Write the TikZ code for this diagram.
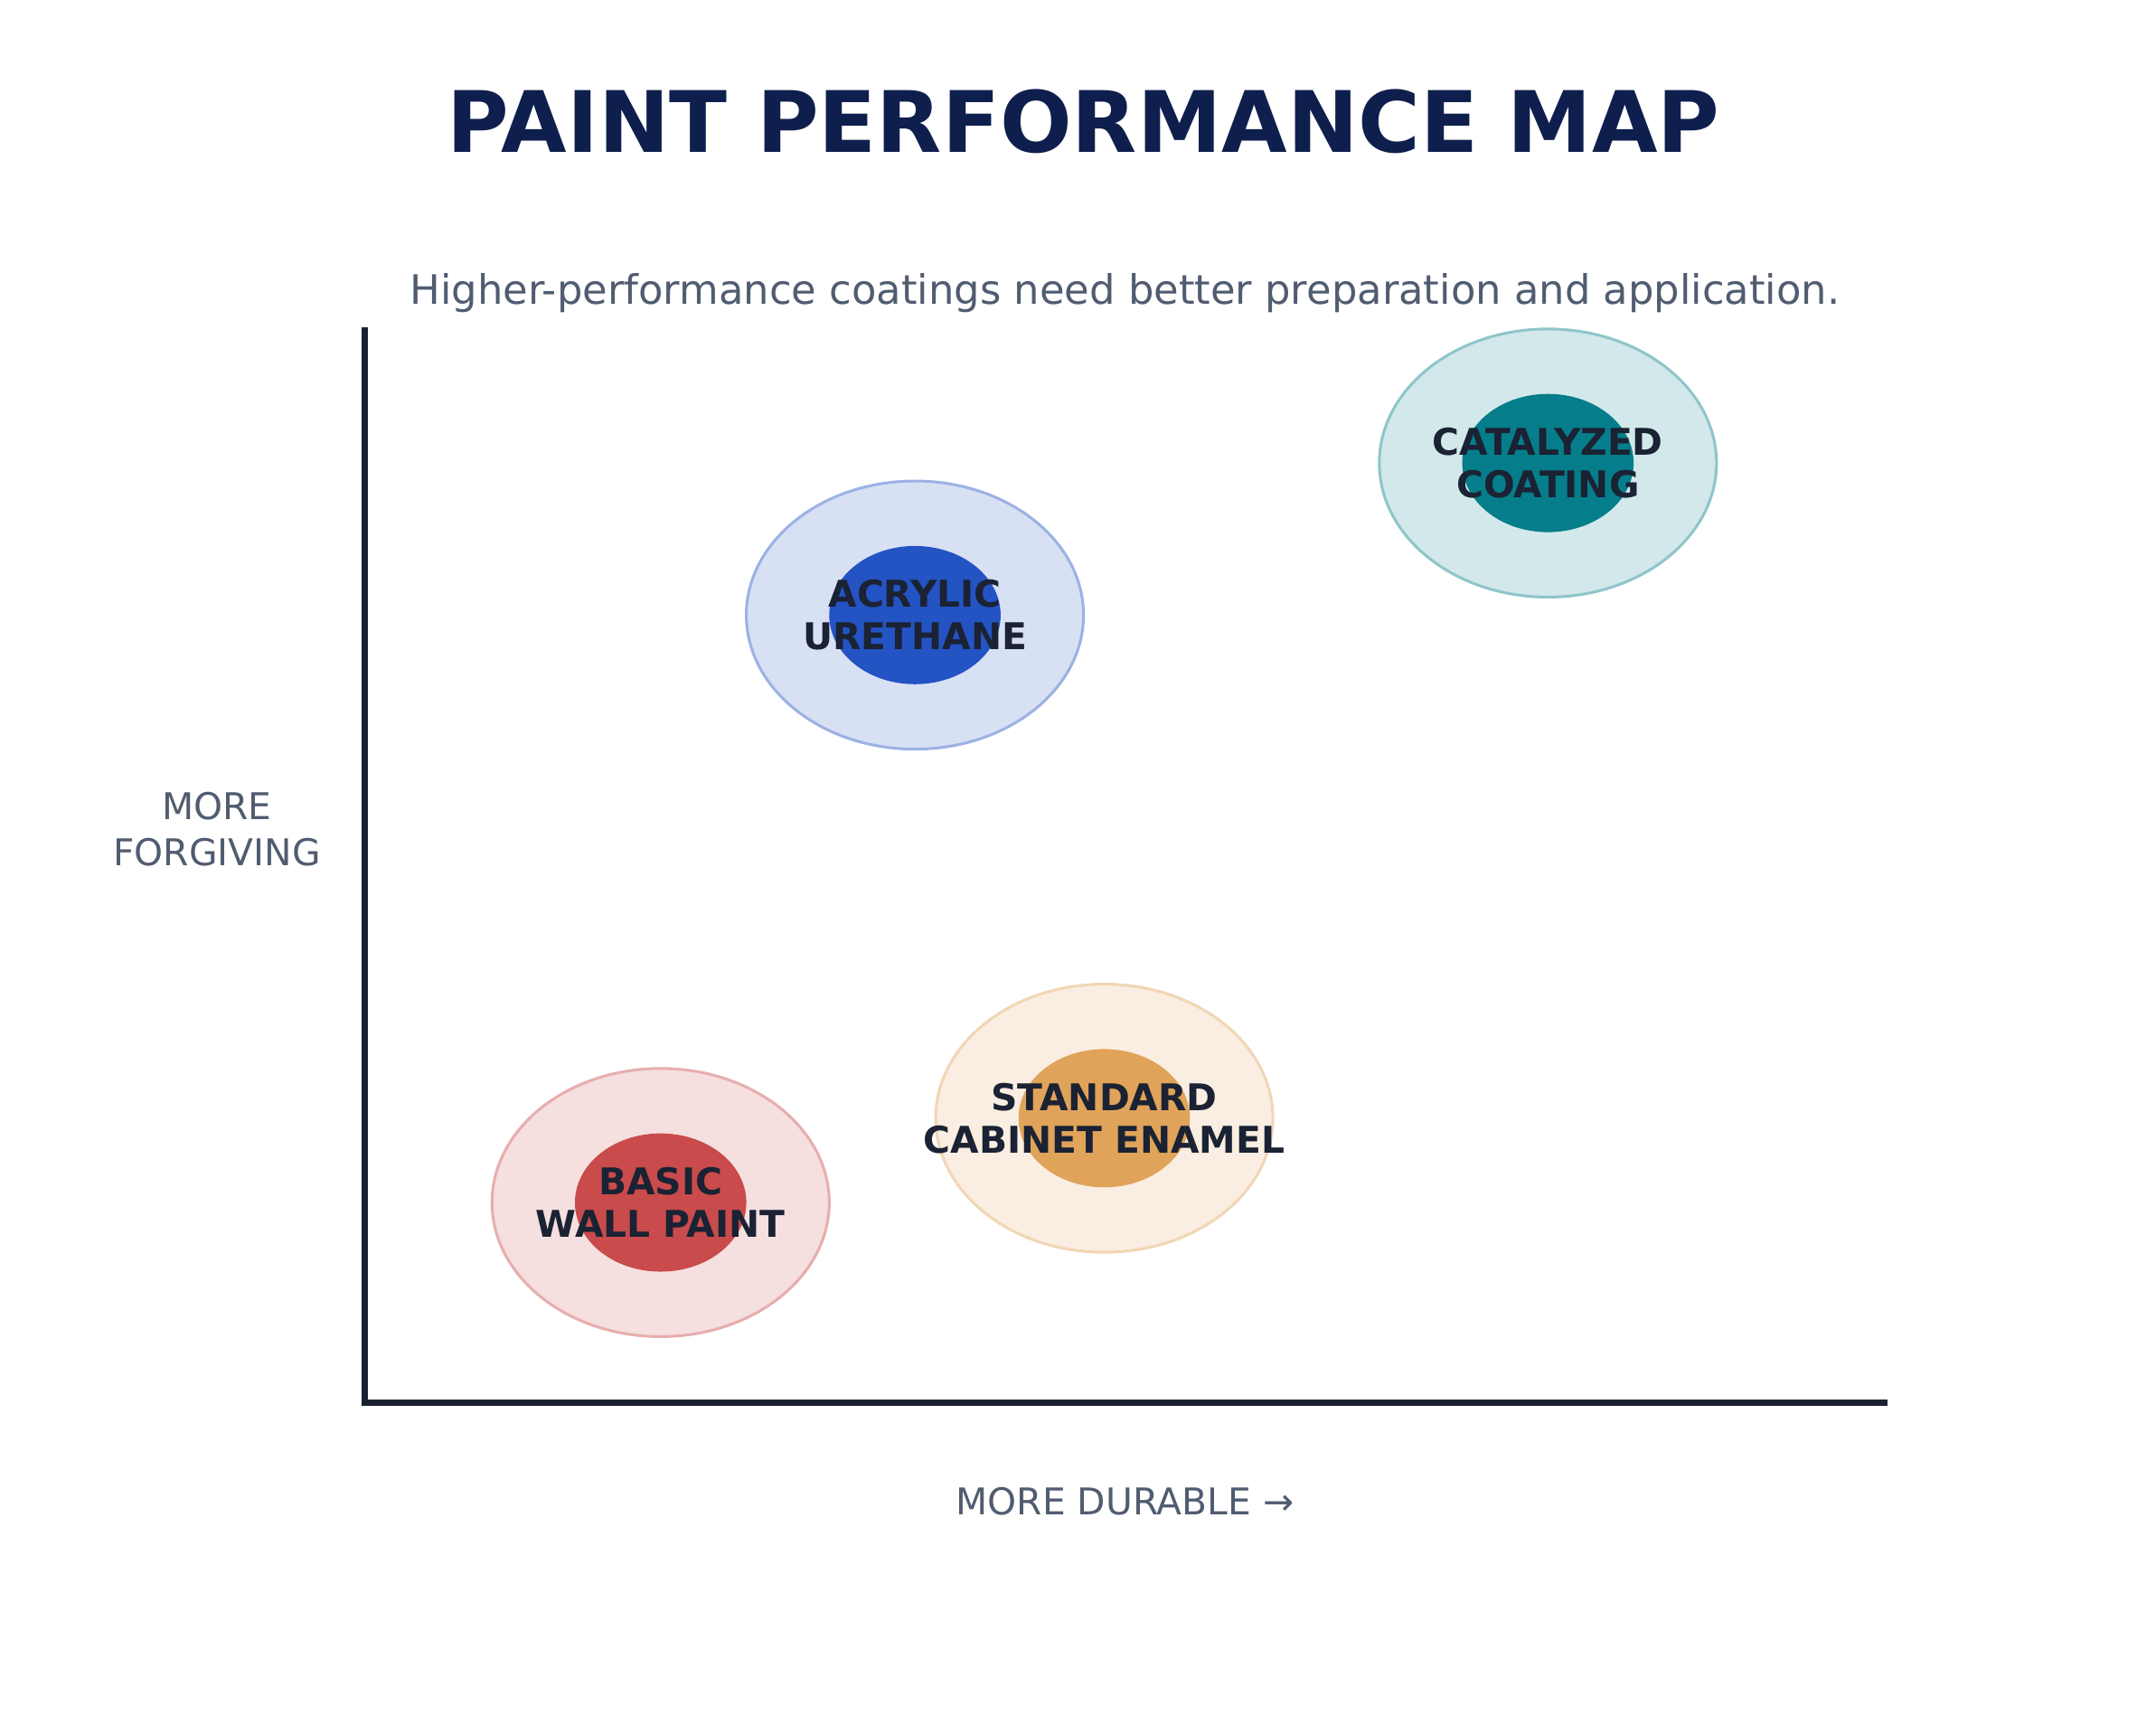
\documentclass[tikz,border=0pt]{standalone}
\usepackage{fontspec}
\setmainfont{DejaVu Sans}
\begin{document}
\begin{tikzpicture}[x=0.75pt,y=-0.75pt,
 outer/.style={draw=#1!45!white,fill=#1!18!white,line width=1.5pt},
 inner/.style={fill=#1,draw=none},
 lab/.style={font=\bfseries\fontsize{20}{23}\selectfont,text=labc,align=center},
 axl/.style={font=\fontsize{20}{25}\selectfont,text=grayc,align=center}]
\definecolor{titlec}{HTML}{0F1F4D}
\definecolor{grayc}{HTML}{505C70}
\definecolor{axisc}{HTML}{1A2030}
\definecolor{labc}{HTML}{1A2233}
\definecolor{cblue}{HTML}{2453C4}
\definecolor{cteal}{HTML}{067D8A}
\definecolor{corange}{HTML}{E0A35A}
\definecolor{cred}{HTML}{C94B4B}
\useasboundingbox (0,0) rectangle (1560,1248);
\node (title) at (784,88) [font=\bfseries\fontsize{46}{50}\selectfont,text=titlec] {PAINT PERFORMANCE MAP};
\node (sub) at (814,212) [font=\fontsize{22}{26}\selectfont,text=grayc] {Higher-performance coatings need better preparation and application.};
\coordinate (top) at (264,237);
\coordinate (orig) at (264,1015);
\coordinate (right) at (1366,1015);
\draw[axisc,line width=3.5pt] (top) -- (orig) -- (right);
\node[axl] (yl) at (157,600) {MORE\\FORGIVING};
\node[axl] (xl) at (814,1086) {MORE DURABLE →};
\foreach \n/\x/\y/\c/\t in {acr/662/445/cblue/{ACRYLIC\\URETHANE},cat/1120/335/cteal/{CATALYZED\\COATING},std/799/809/corange/{STANDARD\\CABINET ENAMEL},bas/478/870/cred/{BASIC\\WALL PAINT}}{
 \draw[outer=\c] (\x,\y) ellipse [x radius=122,y radius=97];
 \fill[inner=\c] (\x,\y) ellipse [x radius=62,y radius=50];
 \node[lab] (\n) at (\x,\y) {\t};
}
\end{tikzpicture}
\end{document}
